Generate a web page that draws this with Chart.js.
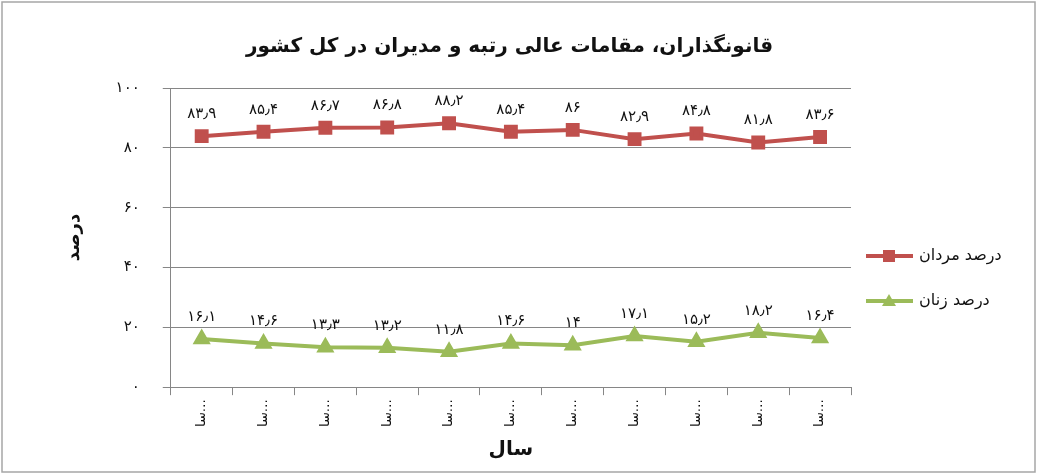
<!DOCTYPE html>
<html>
<head>
<meta charset="utf-8">
<script src="https://cdn.jsdelivr.net/npm/chart.js@4.4.0/dist/chart.umd.min.js"></script>
<style>
  html, body { margin: 0; padding: 0; background: #fff; }
  #wrap { width: 1039px; height: 475px; }
</style>
</head>
<body>
<div id="wrap"><canvas id="mycanvas" width="1039" height="475"></canvas></div>
<script>
// data
var years = ['سا…', 'سا…', 'سا…', 'سا…', 'سا…', 'سا…', 'سا…', 'سا…', 'سا…', 'سا…', 'سا…'];
var menValues = [83.9, 85.4, 86.7, 86.8, 88.2, 85.4, 86, 82.9, 84.8, 81.8, 83.6];
var womenValues = [16.1, 14.6, 13.3, 13.2, 11.8, 14.6, 14, 17.1, 15.2, 18.2, 16.4];
var yTicks = [0, 20, 40, 60, 80, 100];
var seriesNames = ['درصد مردان', 'درصد زنان'];

var fontName = "'DejaVu Sans', sans-serif";

// persian digits
function fa(n) {
    return String(n).replace(/\d/g, function (d) { return '۰۱۲۳۴۵۶۷۸۹'[d]; }).replace('.', '٫');
}

// value labels above the points
var pointLabels = {
    id: 'pointLabels',
    afterDatasetsDraw: function (chart) {
        var ctx = chart.ctx;
        ctx.save();
        ctx.font = '15px ' + fontName;
        ctx.fillStyle = '#111';
        ctx.textAlign = 'center';
        ctx.textBaseline = 'middle';
        chart.data.datasets.forEach(function (ds, i) {
            var meta = chart.getDatasetMeta(i);
            meta.data.forEach(function (pt, j) {
                ctx.fillText(fa(ds.data[j]), pt.x, pt.y - 22);
            });
        });
        ctx.restore();
    }
};

// legend on the right + outer frame
var sideLegend = {
    id: 'sideLegend',
    afterDraw: function (chart) {
        var ctx = chart.ctx;
        ctx.save();
        chart.data.datasets.forEach(function (ds, i) {
            var y = 256 + i * 45;
            ctx.strokeStyle = ds.borderColor;
            ctx.lineWidth = 4;
            ctx.beginPath();
            ctx.moveTo(866, y);
            ctx.lineTo(913, y);
            ctx.stroke();
            ctx.fillStyle = ds.backgroundColor;
            ctx.beginPath();
            if (ds.pointStyle === 'rect') {
                ctx.rect(883, y - 6, 12, 12);
            } else {
                ctx.moveTo(889, y - 7);
                ctx.lineTo(896, y + 5);
                ctx.lineTo(882, y + 5);
                ctx.closePath();
            }
            ctx.fill();
            ctx.fillStyle = '#111';
            ctx.font = '16px ' + fontName;
            ctx.textAlign = 'left';
            ctx.textBaseline = 'middle';
            ctx.fillText(seriesNames[i], 919, y);
        });
        ctx.strokeStyle = '#a6a6a6';
        ctx.lineWidth = 1.5;
        ctx.strokeRect(2, 2, 1033, 470);
        ctx.restore();
    }
};

var ctx = document.getElementById('mycanvas');
var chart = new Chart(ctx, {
    type: 'line',
    data: {
        labels: years,
        datasets: [
            {
                label: seriesNames[0],
                data: menValues,
                borderColor: '#c0504d',
                backgroundColor: '#c0504d',
                borderWidth: 4,
                pointStyle: 'rect',
                pointRadius: 7,
                pointHoverRadius: 7,
                tension: 0
            },
            {
                label: seriesNames[1],
                data: womenValues,
                borderColor: '#9bbb59',
                backgroundColor: '#9bbb59',
                borderWidth: 4,
                pointStyle: 'triangle',
                pointRadius: 6.5,
                pointHoverRadius: 6.5,
                tension: 0
            }
        ]
    },
    options: {
        responsive: false,
        animation: false,
        layout: {
            padding: { left: 45, right: 65, top: 0, bottom: 13 }
        },
        plugins: {
            legend: { display: false },
            tooltip: { enabled: false },
            title: {
                display: true,
                text: 'قانونگذاران، مقامات عالی رتبه و مدیران در کل کشور',
                color: '#111',
                font: { family: fontName, size: 20, weight: 'bold' },
                padding: { top: 35, bottom: 29 }
            }
        },
        scales: {
            x: {
                offset: true,
                grid: {
                    offset: true,
                    drawOnChartArea: false,
                    drawTicks: true,
                    tickLength: 8,
                    color: '#868686'
                },
                border: { color: '#868686', width: 1 },
                ticks: {
                    minRotation: 90,
                    maxRotation: 90,
                    color: '#111',
                    font: { family: fontName, size: 13 },
                    padding: 4
                },
                title: {
                    display: true,
                    text: 'سال',
                    color: '#111',
                    font: { family: fontName, size: 20, weight: 'bold' },
                    padding: { top: 7, bottom: 0 }
                }
            },
            y: {
                min: 0,
                max: 100,
                afterBuildTicks: function (axis) {
                    axis.ticks = yTicks.map(function (v) { return { value: v }; });
                },
                grid: {
                    color: '#868686',
                    lineWidth: 1,
                    tickLength: 8
                },
                border: { color: '#868686', width: 1 },
                ticks: {
                    color: '#111',
                    font: { family: fontName, size: 15 },
                    padding: 23,
                    callback: function (v) { return fa(v); }
                },
                title: {
                    display: true,
                    text: 'درصد',
                    color: '#111',
                    font: { family: fontName, size: 18, weight: 'bold' },
                    padding: { top: 19, bottom: 7 }
                }
            },
            // empty space on the right for the legend
            side: {
                type: 'linear',
                position: 'right',
                display: true,
                grid: { display: false, drawTicks: false },
                border: { display: false },
                ticks: { display: false },
                afterFit: function (axis) { axis.width = 123; }
            }
        }
    },
    plugins: [pointLabels, sideLegend]
});
</script>
</body>
</html>
